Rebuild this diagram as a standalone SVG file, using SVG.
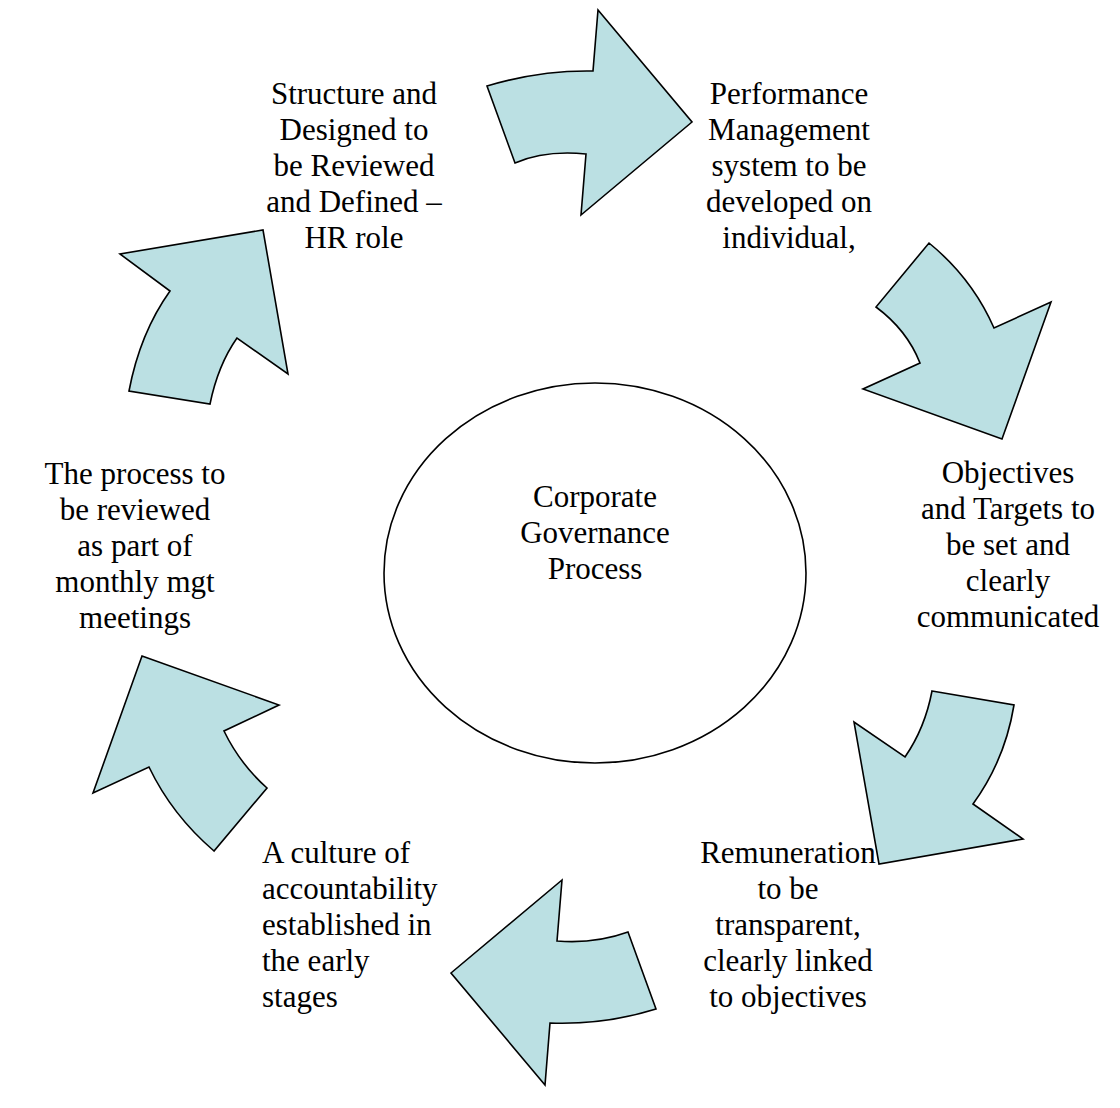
<svg xmlns="http://www.w3.org/2000/svg" width="1120" height="1108" viewBox="0 0 1120 1108">
<style>
.arrow{fill:#BBE0E3;stroke:#000;stroke-width:1.6;stroke-linejoin:miter}
.lbl{font-family:"Liberation Serif","Times New Roman",serif;font-size:31px;fill:#000}
.c{text-anchor:middle}
</style>
<rect width="1120" height="1108" fill="#fff"/>
<g id="connectors">
<path id="arrow-top" class="arrow" d="M487,86 Q540,70 593,71 L598,10 L692,122 L581,215 L586,154 Q545,150 515,163 Z"/>
<path id="arrow-upper-right" class="arrow" d="M929,243 Q972,278 994,328 L1051,302 L1002,439 L863,389 L920,363 Q907,330 876,307 Z"/>
<path id="arrow-lower-right" class="arrow" d="M932,691 L1014,705 Q1005,760 973,804 L1023,839 L879,864 L854,722 L905,757 Q925,728 932,691 Z"/>
<path id="arrow-bottom" class="arrow" d="M562,880 L557,941 Q595,944 628,932 L656,1009 Q605,1025 550,1023 L545,1085 L451,973 Z"/>
<path id="arrow-lower-left" class="arrow" d="M142,656 L279,705 L224,731 Q240,764 267,788 L214,851 Q172,815 149,767 L93,793 Z"/>
<path id="arrow-upper-left" class="arrow" d="M263,230 L288,374 L237,338 Q218,365 210,404 L129,391 Q140,333 170,291 L120,254 Z"/>
</g>
<g id="center">
<ellipse cx="595" cy="573" rx="211" ry="190" fill="#fff" stroke="#000" stroke-width="1.6"/>
<text class="lbl c" x="595" y="507">Corporate</text>
<text class="lbl c" x="595" y="543">Governance</text>
<text class="lbl c" x="595" y="579">Process</text>
</g>
<g id="node-structure">
<text class="lbl c" x="354" y="104">Structure and</text>
<text class="lbl c" x="354" y="140">Designed to</text>
<text class="lbl c" x="354" y="176">be Reviewed</text>
<text class="lbl c" x="354" y="212">and Defined –</text>
<text class="lbl c" x="354" y="248">HR role</text>
</g>
<g id="node-performance">
<text class="lbl c" x="789" y="104">Performance</text>
<text class="lbl c" x="789" y="140">Management</text>
<text class="lbl c" x="789" y="176">system to be</text>
<text class="lbl c" x="789" y="212">developed on</text>
<text class="lbl c" x="789" y="248">individual,</text>
</g>
<g id="node-objectives">
<text class="lbl c" x="1008" y="483">Objectives</text>
<text class="lbl c" x="1008" y="519">and Targets to</text>
<text class="lbl c" x="1008" y="555">be set and</text>
<text class="lbl c" x="1008" y="591">clearly</text>
<text class="lbl c" x="1008" y="627">communicated</text>
</g>
<g id="node-remuneration">
<text class="lbl c" x="788" y="863">Remuneration</text>
<text class="lbl c" x="788" y="899">to be</text>
<text class="lbl c" x="788" y="935">transparent,</text>
<text class="lbl c" x="788" y="971">clearly linked</text>
<text class="lbl c" x="788" y="1007">to objectives</text>
</g>
<g id="node-culture">
<text class="lbl" x="262" y="863">A culture of</text>
<text class="lbl" x="262" y="899">accountability</text>
<text class="lbl" x="262" y="935">established in</text>
<text class="lbl" x="262" y="971">the early</text>
<text class="lbl" x="262" y="1007">stages</text>
</g>
<g id="node-review">
<text class="lbl c" x="135" y="484">The process to</text>
<text class="lbl c" x="135" y="520">be reviewed</text>
<text class="lbl c" x="135" y="556">as part of</text>
<text class="lbl c" x="135" y="592">monthly mgt</text>
<text class="lbl c" x="135" y="628">meetings</text>
</g>
</svg>
